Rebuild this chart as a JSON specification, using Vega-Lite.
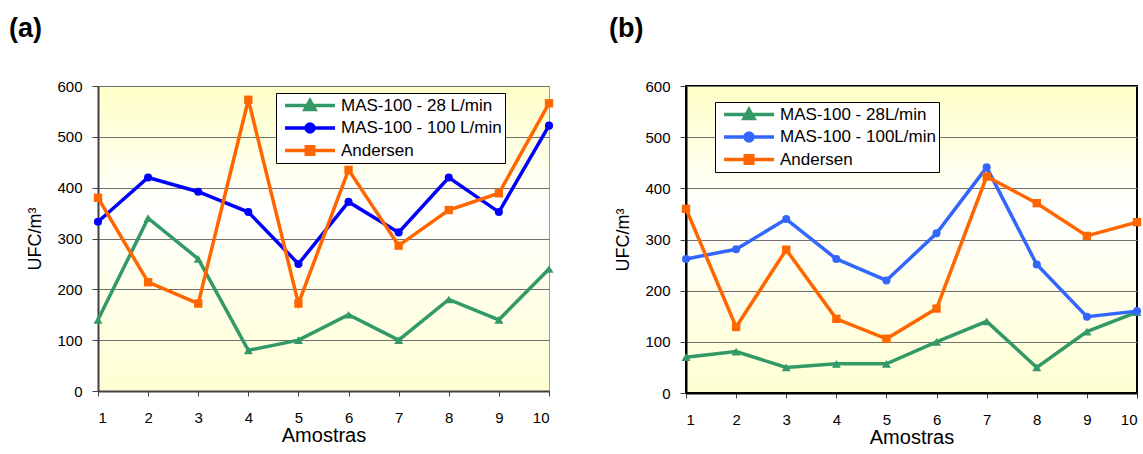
{
  "$schema": "https://vega.github.io/schema/vega-lite/v6.json",
  "padding": {"left": 8, "top": 14, "right": 0, "bottom": 0},
  "background": "white",
  "spacing": 50,
  "datasets": {
    "dados": [
      {"painel": "a", "serie": "MAS-100 - 28 L/min", "amostra": 1, "ufc": 140},
      {"painel": "a", "serie": "MAS-100 - 28 L/min", "amostra": 2, "ufc": 340},
      {"painel": "a", "serie": "MAS-100 - 28 L/min", "amostra": 3, "ufc": 260},
      {"painel": "a", "serie": "MAS-100 - 28 L/min", "amostra": 4, "ufc": 80},
      {"painel": "a", "serie": "MAS-100 - 28 L/min", "amostra": 5, "ufc": 100},
      {"painel": "a", "serie": "MAS-100 - 28 L/min", "amostra": 6, "ufc": 150},
      {"painel": "a", "serie": "MAS-100 - 28 L/min", "amostra": 7, "ufc": 100},
      {"painel": "a", "serie": "MAS-100 - 28 L/min", "amostra": 8, "ufc": 180},
      {"painel": "a", "serie": "MAS-100 - 28 L/min", "amostra": 9, "ufc": 140},
      {"painel": "a", "serie": "MAS-100 - 28 L/min", "amostra": 10, "ufc": 240},
      {"painel": "a", "serie": "MAS-100 - 100 L/min", "amostra": 1, "ufc": 333},
      {"painel": "a", "serie": "MAS-100 - 100 L/min", "amostra": 2, "ufc": 420},
      {"painel": "a", "serie": "MAS-100 - 100 L/min", "amostra": 3, "ufc": 392},
      {"painel": "a", "serie": "MAS-100 - 100 L/min", "amostra": 4, "ufc": 352},
      {"painel": "a", "serie": "MAS-100 - 100 L/min", "amostra": 5, "ufc": 250},
      {"painel": "a", "serie": "MAS-100 - 100 L/min", "amostra": 6, "ufc": 372},
      {"painel": "a", "serie": "MAS-100 - 100 L/min", "amostra": 7, "ufc": 312},
      {"painel": "a", "serie": "MAS-100 - 100 L/min", "amostra": 8, "ufc": 420},
      {"painel": "a", "serie": "MAS-100 - 100 L/min", "amostra": 9, "ufc": 352},
      {"painel": "a", "serie": "MAS-100 - 100 L/min", "amostra": 10, "ufc": 522},
      {"painel": "a", "serie": "Andersen", "amostra": 1, "ufc": 380},
      {"painel": "a", "serie": "Andersen", "amostra": 2, "ufc": 214},
      {"painel": "a", "serie": "Andersen", "amostra": 3, "ufc": 172},
      {"painel": "a", "serie": "Andersen", "amostra": 4, "ufc": 573},
      {"painel": "a", "serie": "Andersen", "amostra": 5, "ufc": 172},
      {"painel": "a", "serie": "Andersen", "amostra": 6, "ufc": 435},
      {"painel": "a", "serie": "Andersen", "amostra": 7, "ufc": 286},
      {"painel": "a", "serie": "Andersen", "amostra": 8, "ufc": 356},
      {"painel": "a", "serie": "Andersen", "amostra": 9, "ufc": 389},
      {"painel": "a", "serie": "Andersen", "amostra": 10, "ufc": 566},
      {"painel": "b", "serie": "MAS-100 - 28L/min", "amostra": 1, "ufc": 70},
      {"painel": "b", "serie": "MAS-100 - 28L/min", "amostra": 2, "ufc": 81},
      {"painel": "b", "serie": "MAS-100 - 28L/min", "amostra": 3, "ufc": 50},
      {"painel": "b", "serie": "MAS-100 - 28L/min", "amostra": 4, "ufc": 57},
      {"painel": "b", "serie": "MAS-100 - 28L/min", "amostra": 5, "ufc": 57},
      {"painel": "b", "serie": "MAS-100 - 28L/min", "amostra": 6, "ufc": 100},
      {"painel": "b", "serie": "MAS-100 - 28L/min", "amostra": 7, "ufc": 140},
      {"painel": "b", "serie": "MAS-100 - 28L/min", "amostra": 8, "ufc": 50},
      {"painel": "b", "serie": "MAS-100 - 28L/min", "amostra": 9, "ufc": 120},
      {"painel": "b", "serie": "MAS-100 - 28L/min", "amostra": 10, "ufc": 158},
      {"painel": "b", "serie": "MAS-100 - 100L/min", "amostra": 1, "ufc": 262},
      {"painel": "b", "serie": "MAS-100 - 100L/min", "amostra": 2, "ufc": 281},
      {"painel": "b", "serie": "MAS-100 - 100L/min", "amostra": 3, "ufc": 340},
      {"painel": "b", "serie": "MAS-100 - 100L/min", "amostra": 4, "ufc": 262},
      {"painel": "b", "serie": "MAS-100 - 100L/min", "amostra": 5, "ufc": 220},
      {"painel": "b", "serie": "MAS-100 - 100L/min", "amostra": 6, "ufc": 312},
      {"painel": "b", "serie": "MAS-100 - 100L/min", "amostra": 7, "ufc": 441},
      {"painel": "b", "serie": "MAS-100 - 100L/min", "amostra": 8, "ufc": 251},
      {"painel": "b", "serie": "MAS-100 - 100L/min", "amostra": 9, "ufc": 149},
      {"painel": "b", "serie": "MAS-100 - 100L/min", "amostra": 10, "ufc": 160},
      {"painel": "b", "serie": "Andersen", "amostra": 1, "ufc": 360},
      {"painel": "b", "serie": "Andersen", "amostra": 2, "ufc": 129},
      {"painel": "b", "serie": "Andersen", "amostra": 3, "ufc": 280},
      {"painel": "b", "serie": "Andersen", "amostra": 4, "ufc": 145},
      {"painel": "b", "serie": "Andersen", "amostra": 5, "ufc": 106},
      {"painel": "b", "serie": "Andersen", "amostra": 6, "ufc": 165},
      {"painel": "b", "serie": "Andersen", "amostra": 7, "ufc": 423},
      {"painel": "b", "serie": "Andersen", "amostra": 8, "ufc": 371},
      {"painel": "b", "serie": "Andersen", "amostra": 9, "ufc": 307},
      {"painel": "b", "serie": "Andersen", "amostra": 10, "ufc": 334}
    ]
  },
  "data": {"name": "dados"},
  "resolve": {
    "scale": {"x": "independent", "y": "independent", "color": "independent"},
    "legend": {"color": "independent"}
  },
  "hconcat": [
    {
      "title": {"text": "(a)", "anchor": "start", "fontSize": 27, "fontWeight": "bold", "font": "Liberation Sans", "color": "black", "dx": -18, "offset": 36},
      "width": 451,
      "height": 305,
      "view": {
        "fill": {"gradient": "linear", "x1": 0, "y1": 0, "x2": 0, "y2": 1, "stops": [{"offset": 0, "color": "#FFFFC8"}, {"offset": 0.4, "color": "#FFFFFF"}, {"offset": 1, "color": "#FFFFD2"}]},
        "stroke": "#9a9a9a",
        "strokeWidth": 1
      },
      "transform": [{"filter": "datum.painel == 'a'"}],
      "encoding": {
        "x": {"field": "amostra", "type": "quantitative", "scale": {"domain": [1, 10], "nice": false, "zero": false},
          "axis": {"values": [1, 2, 3, 4, 5, 6, 7, 8, 9, 10], "title": "Amostras", "grid": false, "domainColor": "#404040", "domainWidth": 2, "tickColor": "#404040", "tickSize": 5, "labelPadding": 14, "labelFontSize": 15, "titleFontSize": 20, "titleFontWeight": "normal", "titlePadding": 0, "labelColor": "black", "titleColor": "black"}},
        "y": {"field": "ufc", "type": "quantitative", "scale": {"domain": [0, 600], "nice": false},
          "axis": {"values": [0, 100, 200, 300, 400, 500, 600], "title": "UFC/m³", "grid": true, "gridColor": "#707070", "gridWidth": 1, "domainColor": "#404040", "domainWidth": 2, "tickColor": "#404040", "tickSize": 6, "labelPadding": 10, "labelFontSize": 15, "titleFontSize": 18, "titleFontWeight": "normal", "titlePadding": 12, "labelColor": "black", "titleColor": "black"}},
        "color": {"field": "serie", "type": "nominal",
          "scale": {"domain": ["MAS-100 - 28 L/min", "MAS-100 - 100 L/min", "Andersen"], "range": ["#339966", "#0000FF", "#FF6600"]},
          "legend": {"orient": "none", "legendX": 178, "legendY": 7, "title": null,
            "encode": {"symbols": {"update": {
              "shape": {"signal": "datum.index == 0 ? 'M-1,0H1M0,-0.2L0.2,0.16L-0.2,0.16Z' : datum.index == 1 ? 'M-1,0H1M0.16,0A0.16,0.16,0,1,1,-0.16,0A0.16,0.16,0,1,1,0.16,0Z' : 'M-1,0H1M-0.15,-0.15H0.15V0.15H-0.15Z'"},
              "fill": {"signal": "datum.index == 0 ? '#339966' : datum.index == 1 ? '#0000FF' : '#FF6600'"},
              "stroke": {"signal": "datum.index == 0 ? '#339966' : datum.index == 1 ? '#0000FF' : '#FF6600'"},
              "strokeWidth": {"value": 3.5},
              "opacity": {"value": 1},
              "size": {"value": 2500}
            }}}}}
      },
      "layer": [
        {"mark": {"type": "line", "strokeWidth": 3.5}},
        {"transform": [{"filter": "datum.serie == 'MAS-100 - 28 L/min'"}], "mark": {"type": "point", "shape": "triangle-up", "filled": true, "opacity": 1, "size": 80}},
        {"transform": [{"filter": "datum.serie == 'MAS-100 - 100 L/min'"}], "mark": {"type": "point", "shape": "circle", "filled": true, "opacity": 1, "size": 65}},
        {"transform": [{"filter": "datum.serie == 'Andersen'"}], "mark": {"type": "point", "shape": "square", "filled": true, "opacity": 1, "size": 70}}
      ]
    },
    {
      "title": {"text": "(b)", "anchor": "start", "fontSize": 27, "fontWeight": "bold", "font": "Liberation Sans", "color": "black", "dx": -6, "offset": 36},
      "width": 451,
      "height": 307,
      "view": {
        "fill": {"gradient": "linear", "x1": 0, "y1": 0, "x2": 0, "y2": 1, "stops": [{"offset": 0, "color": "#FFFFC8"}, {"offset": 0.4, "color": "#FFFFFF"}, {"offset": 1, "color": "#FFFFD2"}]},
        "stroke": "black",
        "strokeWidth": 2
      },
      "transform": [{"filter": "datum.painel == 'b'"}],
      "encoding": {
        "x": {"field": "amostra", "type": "quantitative", "scale": {"domain": [1, 10], "nice": false, "zero": false},
          "axis": {"values": [1, 2, 3, 4, 5, 6, 7, 8, 9, 10], "title": "Amostras", "grid": false, "domainColor": "black", "domainWidth": 2, "tickColor": "#404040", "tickSize": 5, "labelPadding": 14, "labelFontSize": 15, "titleFontSize": 20, "titleFontWeight": "normal", "titlePadding": 0, "labelColor": "black", "titleColor": "black"}},
        "y": {"field": "ufc", "type": "quantitative", "scale": {"domain": [0, 600], "nice": false},
          "axis": {"values": [0, 100, 200, 300, 400, 500, 600], "title": "UFC/m³", "grid": true, "gridColor": "#707070", "gridWidth": 1, "domainColor": "black", "domainWidth": 2, "tickColor": "#404040", "tickSize": 6, "labelPadding": 10, "labelFontSize": 15, "titleFontSize": 18, "titleFontWeight": "normal", "titlePadding": 12, "labelColor": "black", "titleColor": "black"}},
        "color": {"field": "serie", "type": "nominal",
          "scale": {"domain": ["MAS-100 - 28L/min", "MAS-100 - 100L/min", "Andersen"], "range": ["#339966", "#3366FF", "#FF6600"]},
          "legend": {"orient": "none", "legendX": 29, "legendY": 16, "title": null,
            "encode": {"symbols": {"update": {
              "shape": {"signal": "datum.index == 0 ? 'M-1,0H1M0,-0.2L0.2,0.16L-0.2,0.16Z' : datum.index == 1 ? 'M-1,0H1M0.16,0A0.16,0.16,0,1,1,-0.16,0A0.16,0.16,0,1,1,0.16,0Z' : 'M-1,0H1M-0.15,-0.15H0.15V0.15H-0.15Z'"},
              "fill": {"signal": "datum.index == 0 ? '#339966' : datum.index == 1 ? '#3366FF' : '#FF6600'"},
              "stroke": {"signal": "datum.index == 0 ? '#339966' : datum.index == 1 ? '#3366FF' : '#FF6600'"},
              "strokeWidth": {"value": 3.5},
              "opacity": {"value": 1},
              "size": {"value": 2500}
            }}}}}
      },
      "layer": [
        {"mark": {"type": "line", "strokeWidth": 3.5}},
        {"transform": [{"filter": "datum.serie == 'MAS-100 - 28L/min'"}], "mark": {"type": "point", "shape": "triangle-up", "filled": true, "opacity": 1, "size": 80}},
        {"transform": [{"filter": "datum.serie == 'MAS-100 - 100L/min'"}], "mark": {"type": "point", "shape": "circle", "filled": true, "opacity": 1, "size": 65}},
        {"transform": [{"filter": "datum.serie == 'Andersen'"}], "mark": {"type": "point", "shape": "square", "filled": true, "opacity": 1, "size": 70}}
      ]
    }
  ],
  "config": {
    "font": "Liberation Sans",
    "axis": {"labelFont": "Liberation Sans", "titleFont": "Liberation Sans"},
    "legend": {
      "labelFont": "Liberation Sans",
      "labelFontSize": 17,
      "labelColor": "black",
      "labelOffset": 4,
      "labelLimit": 400,
      "symbolSize": 2500,
      "symbolStrokeWidth": 3,
      "clipHeight": 19,
      "rowPadding": 3.5,
      "padding": 3,
      "symbolOffset": 4,
      "strokeColor": "black",
      "fillColor": "white",
      "cornerRadius": 0
    }
  }
}
